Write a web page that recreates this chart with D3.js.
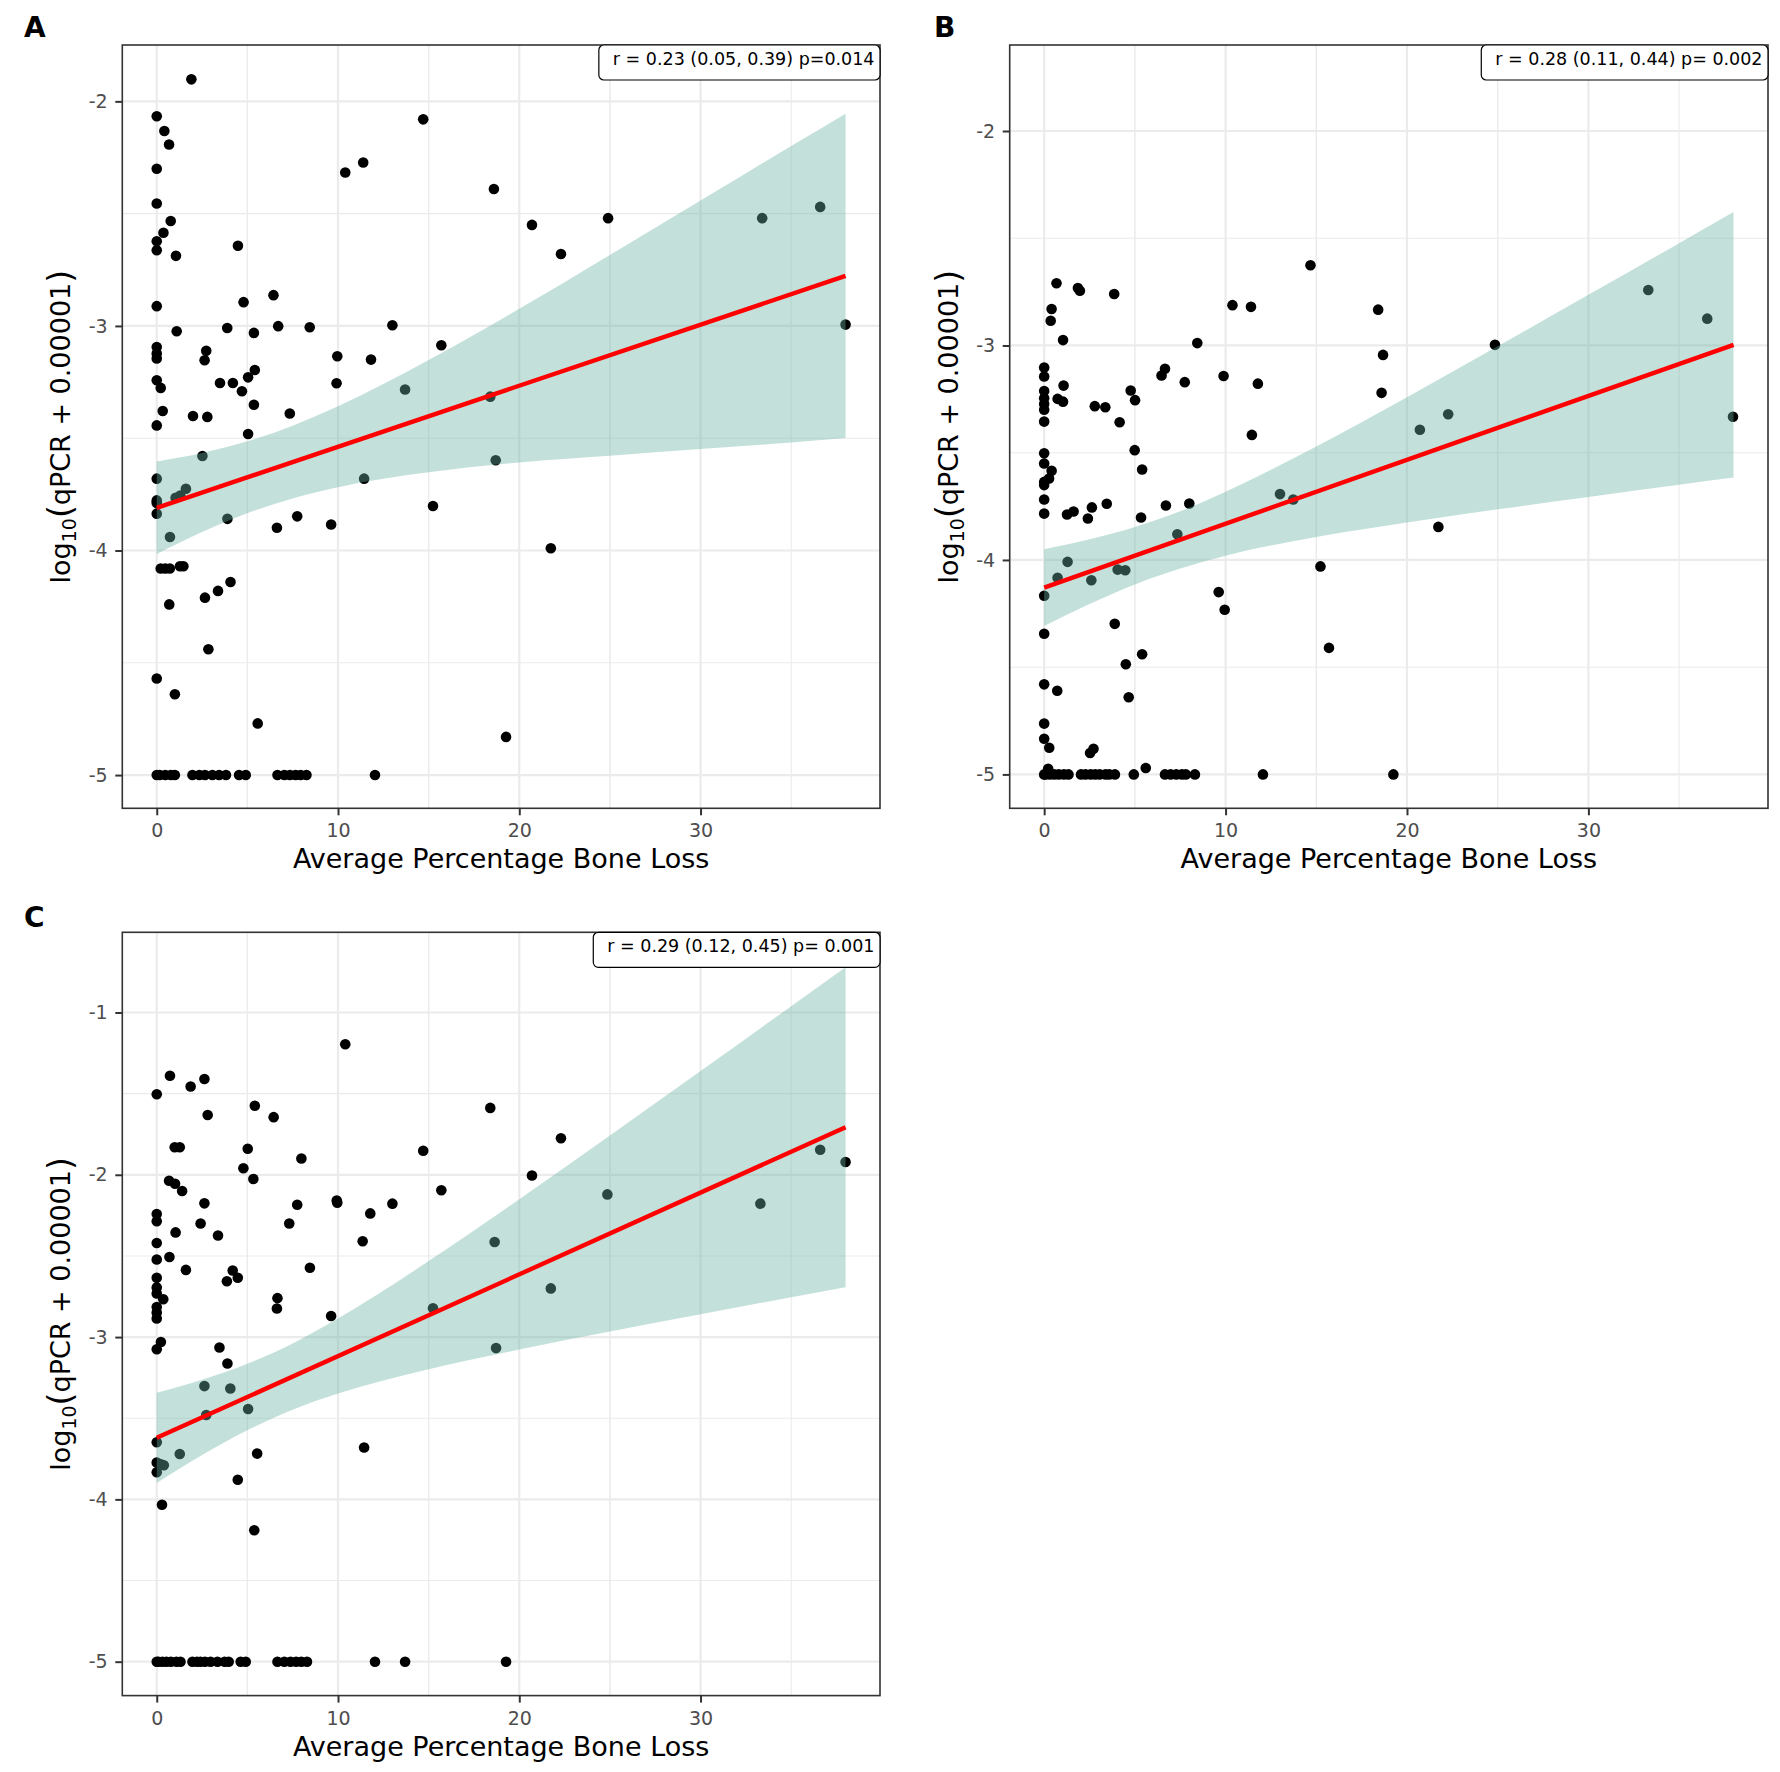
<!DOCTYPE html>
<html>
<head>
<meta charset="utf-8">
<script src="https://cdn.jsdelivr.net/npm/d3@7"></script>
<style>
  html, body { margin: 0; padding: 0; background: #fff; }
  svg { display: block; font-family: "DejaVu Sans", sans-serif; }
</style>
</head>
<body>
<svg id="chart" width="1780" height="1772"></svg>
<script>
// ---------------- data ----------------
const xTicks = [0, 10, 20, 30];
const yTicksA = [-2, -3, -4, -5];
const yTicksB = [-2, -3, -4, -5];
const yTicksC = [-1, -2, -3, -4, -5];

const xTitle = "Average Percentage Bone Loss";
const labelA = "r = 0.23 (0.05, 0.39) p=0.014";
const labelB = "r = 0.28 (0.11, 0.44) p= 0.002";
const labelC = "r = 0.29 (0.12, 0.45) p= 0.001";

const pointsA = [
  [1.91,-1.902],[0,-2.066],[0.42,-2.132],[0.68,-2.192],[0,-2.30],[0,-2.455],[0.77,-2.533],[0.37,-2.585],
  [0,-2.623],[0,-2.663],[1.06,-2.688],[4.48,-2.643],[14.7,-2.08],[10.4,-2.317],[11.39,-2.272],[18.6,-2.39],
  [20.7,-2.55],[24.9,-2.52],[22.3,-2.68],[33.4,-2.52],[36.6,-2.47],[38.0,-2.994],
  [0,-2.912],[6.44,-2.863],[4.79,-2.894],[1.1,-3.024],[3.89,-3.009],[6.7,-3.001],[8.44,-3.006],[5.36,-3.031],
  [13.0,-2.997],[15.7,-3.086],[0,-3.094],[0,-3.123],[0,-3.145],[2.73,-3.111],[2.64,-3.153],[9.96,-3.135],
  [11.82,-3.15],[0,-3.242],[0.22,-3.276],[3.49,-3.254],[4.2,-3.254],[5.04,-3.229],[5.41,-3.196],[4.7,-3.291],
  [9.92,-3.255],[13.7,-3.283],[18.4,-3.315],[5.36,-3.351],[0.33,-3.379],[2.0,-3.401],[2.79,-3.405],[7.34,-3.39],
  [0,-3.443],[5.04,-3.481],[2.52,-3.579],[18.7,-3.598],[0,-3.68],[11.44,-3.68],[1.61,-3.725],[1.3,-3.755],
  [1.04,-3.765],[0,-3.777],[0,-3.789],[0,-3.836],[3.9,-3.859],[0.73,-3.94],[6.63,-3.899],[7.75,-3.848],
  [9.62,-3.884],[15.24,-3.802],[21.74,-3.99],
  [0.22,-4.08],[0.47,-4.08],[0.72,-4.08],[1.28,-4.07],[1.47,-4.07],[0.69,-4.24],[2.66,-4.21],[3.38,-4.18],
  [4.07,-4.14],[2.85,-4.44],[0,-4.57],[1.0,-4.64],[5.57,-4.77],[19.27,-4.83],
  [0,-5],[0.16,-5],[0.47,-5],[0.78,-5],[1.0,-5],[1.97,-5],[2.35,-5],[2.66,-5],[3.07,-5],[3.44,-5],[3.82,-5],
  [4.54,-5],[4.91,-5],[6.66,-5],[7.04,-5],[7.35,-5],[7.66,-5],[7.94,-5],[8.26,-5],[12.04,-5]
];

const pointsB = [
  [14.68,-2.626],[0.68,-2.71],[1.86,-2.732],[1.97,-2.745],[3.86,-2.76],[10.38,-2.812],[11.4,-2.82],[18.41,-2.833],
  [0.41,-2.83],[0.36,-2.885],[33.3,-2.741],[36.55,-2.875],[1.04,-2.975],[8.44,-2.989],[24.85,-2.997],[18.68,-3.044],
  [0,-3.103],[0,-3.145],[6.66,-3.109],[6.47,-3.14],[9.89,-3.142],[11.78,-3.178],[7.75,-3.171],[1.07,-3.187],
  [0,-3.212],[0,-3.246],[0,-3.273],[0,-3.30],[4.77,-3.21],[5.01,-3.255],[0.74,-3.249],[1.04,-3.262],[18.6,-3.221],
  [2.79,-3.283],[3.37,-3.288],[0,-3.355],[4.16,-3.358],[22.27,-3.321],[37.97,-3.332],[20.71,-3.393],[11.45,-3.417],
  [4.99,-3.488],[0,-3.503],[0,-3.55],[5.4,-3.578],[0.41,-3.584],[0.27,-3.62],[0,-3.636],[0,-3.651],[0,-3.718],
  [13.0,-3.693],[13.73,-3.718],[8.0,-3.737],[6.71,-3.746],[3.45,-3.738],[2.63,-3.755],[2.41,-3.807],[1.62,-3.774],
  [1.26,-3.788],[0,-3.784],[5.34,-3.802],[7.34,-3.88],[21.73,-3.846],[1.29,-4.009],[0.74,-4.083],[2.6,-4.095],
  [4.05,-4.045],[4.47,-4.048],[15.23,-4.03],[0,-4.167],[9.62,-4.15],[9.95,-4.232],[3.89,-4.298],[0,-4.344],
  [15.7,-4.41],[5.4,-4.44],[4.5,-4.486],[0,-4.58],[0.72,-4.61],[4.66,-4.64],[0,-4.763],[0,-4.834],[0.28,-4.876],
  [2.72,-4.88],[2.53,-4.9],[0.22,-4.974],[5.6,-4.97],
  [0,-5],[0.06,-5],[0.31,-5],[0.56,-5],[0.81,-5],[1.09,-5],[1.34,-5],[2.03,-5],[2.28,-5],[2.56,-5],[2.81,-5],
  [3.06,-5],[3.38,-5],[3.59,-5],[3.9,-5],[4.94,-5],[6.66,-5],[6.97,-5],[7.28,-5],[7.59,-5],[7.81,-5],[8.31,-5],
  [12.06,-5],[19.25,-5]
];

const pointsC = [
  [10.4,-1.196],[0.73,-1.39],[2.63,-1.41],[1.87,-1.456],[0,-1.504],[5.41,-1.575],[2.81,-1.632],[6.45,-1.645],
  [18.4,-1.588],[0.99,-1.83],[1.27,-1.83],[5.02,-1.84],[14.7,-1.852],[22.3,-1.775],[36.6,-1.846],[38.0,-1.921],
  [7.98,-1.90],[4.78,-1.96],[5.33,-2.026],[0.68,-2.037],[1.01,-2.055],[1.4,-2.10],[20.7,-2.004],[15.7,-2.095],
  [24.86,-2.121],[2.63,-2.176],[9.93,-2.159],[9.96,-2.172],[7.75,-2.185],[13.0,-2.178],[33.3,-2.178],[11.78,-2.238],
  [0,-2.242],[0,-2.286],[2.42,-2.30],[7.31,-2.30],[1.04,-2.355],[3.38,-2.374],[11.36,-2.41],[18.64,-2.414],
  [0,-2.42],[0.7,-2.507],[0,-2.522],[1.61,-2.586],[8.45,-2.573],[4.19,-2.59],[4.47,-2.634],[3.87,-2.656],
  [0,-2.634],[0,-2.694],[0,-2.731],[0.36,-2.767],[21.74,-2.70],[6.66,-2.76],[6.63,-2.824],[15.24,-2.822],
  [0,-2.815],[0,-2.848],[0,-2.885],[9.62,-2.87],[0.23,-3.03],[0,-3.075],[3.46,-3.064],[18.72,-3.068],
  [3.9,-3.163],[2.63,-3.302],[4.06,-3.317],[2.73,-3.48],[5.04,-3.443],[0,-3.648],[1.27,-3.72],[5.54,-3.718],
  [11.44,-3.68],[0,-3.773],[0.23,-3.784],[0.39,-3.79],[0,-3.833],[4.47,-3.879],[0.29,-4.033],[5.38,-4.19],
  [0,-5],[0.09,-5],[0.31,-5],[0.53,-5],[0.78,-5],[1.09,-5],[1.31,-5],[1.97,-5],[2.22,-5],[2.41,-5],[2.66,-5],
  [2.97,-5],[3.35,-5],[3.75,-5],[3.97,-5],[4.63,-5],[4.91,-5],[6.66,-5],[7.04,-5],[7.38,-5],[7.69,-5],[7.98,-5],
  [8.29,-5],[12.04,-5],[13.7,-5],[19.27,-5]
];

// fitted lines (end points)
const fitA = [[0,-3.81],[38,-2.777]];
const fitB = [[0,-4.129],[38,-2.997]];
const fitC = [[0,-3.621],[38,-1.707]];

// confidence band edges read at these x positions
const bandX  = [0, 2.5, 5, 7.5, 10, 15, 20, 25, 30, 35, 38];
const upperA = [-3.604,-3.566,-3.514,-3.444,-3.358,-3.152,-2.924,-2.684,-2.442,-2.199,-2.055];
const lowerA = [-4.016,-3.918,-3.834,-3.768,-3.718,-3.652,-3.608,-3.578,-3.548,-3.519,-3.499];
const upperB = [-3.950,-3.904,-3.846,-3.773,-3.682,-3.471,-3.241,-3.004,-2.764,-2.523,-2.378];
const lowerB = [-4.308,-4.206,-4.114,-4.040,-3.980,-3.893,-3.825,-3.764,-3.706,-3.649,-3.616];
const upperC = [-3.343,-3.263,-3.164,-3.039,-2.886,-2.532,-2.151,-1.758,-1.361,-0.961,-0.721];
const lowerC = [-3.899,-3.727,-3.574,-3.447,-3.348,-3.198,-3.077,-2.966,-2.859,-2.755,-2.693];

// ---------------- layout ----------------
const panels = [
  { letter: "A", pts: pointsA, fit: fitA, up: upperA, lo: lowerA, yTicks: yTicksA, label: labelA,
    yDomain: [-5.148, -1.749], box: { l: 122.3, r: 880, t: 45, b: 808.3 }, letterPos: [24, 36.7] },
  { letter: "B", pts: pointsB, fit: fitB, up: upperB, lo: lowerB, yTicks: yTicksB, label: labelB,
    yDomain: [-5.158, -1.599], box: { l: 1009.7, r: 1768, t: 45, b: 808.3 }, letterPos: [934, 36.7] },
  { letter: "C", pts: pointsC, fit: fitC, up: upperC, lo: lowerC, yTicks: yTicksC, label: labelC,
    yDomain: [-5.209, -0.506], box: { l: 122.3, r: 880, t: 932.3, b: 1695.6 }, letterPos: [24, 926.7] }
];
const xDomain = [-1.9, 39.9];

const svg = d3.select("#chart");
svg.append("rect").attr("width", 1780).attr("height", 1772).attr("fill", "#fff");

panels.forEach(p => {
  const B = p.box;
  const x = d3.scaleLinear().domain(xDomain).range([B.l, B.r]);
  const y = d3.scaleLinear().domain(p.yDomain).range([B.b, B.t]);
  const g = svg.append("g");

  const clipId = "clip" + p.letter;
  g.append("clipPath").attr("id", clipId).append("rect")
    .attr("x", B.l).attr("y", B.t).attr("width", B.r - B.l).attr("height", B.b - B.t);

  // minor grid
  const xMinor = xTicks.map(t => t + 5).concat(xTicks.map(t => t - 5))
    .filter(v => v > xDomain[0] && v < xDomain[1] && !xTicks.includes(v));
  const yMinor = Array.from(new Set(p.yTicks.map(t => t + 0.5).concat(p.yTicks.map(t => t - 0.5))))
    .filter(v => v > p.yDomain[0] && v < p.yDomain[1] && !p.yTicks.includes(v));
  const grid = g.append("g");
  grid.selectAll(".xm").data(xMinor).join("line")
    .attr("x1", d => x(d)).attr("x2", d => x(d)).attr("y1", B.t).attr("y2", B.b)
    .attr("stroke", "#EBEBEB").attr("stroke-width", 1.1);
  grid.selectAll(".ym").data(yMinor).join("line")
    .attr("y1", d => y(d)).attr("y2", d => y(d)).attr("x1", B.l).attr("x2", B.r)
    .attr("stroke", "#EBEBEB").attr("stroke-width", 1.1);
  grid.selectAll(".xM").data(xTicks).join("line")
    .attr("x1", d => x(d)).attr("x2", d => x(d)).attr("y1", B.t).attr("y2", B.b)
    .attr("stroke", "#EBEBEB").attr("stroke-width", 2.2);
  grid.selectAll(".yM").data(p.yTicks).join("line")
    .attr("y1", d => y(d)).attr("y2", d => y(d)).attr("x1", B.l).attr("x2", B.r)
    .attr("stroke", "#EBEBEB").attr("stroke-width", 2.2);

  const plot = g.append("g").attr("clip-path", `url(#${clipId})`);

  // points
  plot.selectAll("circle").data(p.pts).join("circle")
    .attr("cx", d => x(d[0])).attr("cy", d => y(d[1])).attr("r", 5.3).attr("fill", "#000");

  // confidence band
  const bandData = bandX.map((bx, i) => ({ x: bx, up: p.up[i], lo: p.lo[i] }));
  const area = d3.area().curve(d3.curveMonotoneX)
    .x(d => x(d.x)).y0(d => y(d.lo)).y1(d => y(d.up));
  plot.append("path").datum(bandData).attr("d", area)
    .attr("fill", "#69b3a2").attr("fill-opacity", 0.4);

  // fitted line
  plot.append("path").datum(p.fit)
    .attr("d", d3.line().x(d => x(d[0])).y(d => y(d[1])))
    .attr("fill", "none").attr("stroke", "#FF0000").attr("stroke-width", 4.4);

  // panel border
  g.append("rect").attr("x", B.l).attr("y", B.t).attr("width", B.r - B.l).attr("height", B.b - B.t)
    .attr("fill", "none").attr("stroke", "#333333").attr("stroke-width", 1.6);

  // axes ticks
  const xAxis = d3.axisBottom(x).tickValues(xTicks).tickSize(7).tickPadding(4).tickFormat(d3.format("d"));
  const yAxis = d3.axisLeft(y).tickValues(p.yTicks).tickSize(7).tickPadding(6).tickFormat(d => String(d));
  const gx = g.append("g").attr("transform", `translate(0,${B.b})`).call(xAxis);
  const gy = g.append("g").attr("transform", `translate(${B.l},0)`).call(yAxis);
  [gx, gy].forEach(ax => {
    ax.select(".domain").remove();
    ax.selectAll(".tick line").attr("stroke", "#333333").attr("stroke-width", 2);
    ax.selectAll(".tick text").attr("fill", "#4D4D4D").attr("font-size", 19)
      .attr("font-family", "DejaVu Sans");
  });
  gx.selectAll(".tick text").attr("dy", null).attr("y", 29);
  gy.selectAll(".tick text").attr("x", -14.6);

  // x title
  g.append("text").attr("x", (B.l + B.r) / 2).attr("y", B.b + 60)
    .attr("text-anchor", "middle").attr("font-size", 27).attr("fill", "#000").text(xTitle);

  // y title (log10 with subscript)
  const yt = g.append("text")
    .attr("transform", `translate(${B.l - 52},${(B.t + B.b) / 2}) rotate(-90)`)
    .attr("text-anchor", "middle").attr("font-size", 27).attr("fill", "#000");
  yt.append("tspan").text("log");
  yt.append("tspan").attr("font-size", 19).attr("dy", 6).text("10");
  yt.append("tspan").attr("font-size", 33).attr("dy", -4).text("(");
  yt.append("tspan").attr("font-size", 27).attr("dy", -2).text("qPCR + 0.00001");
  yt.append("tspan").attr("font-size", 33).attr("dy", 2).text(")");

  // correlation label box (top-right)
  const lt = g.append("text").attr("x", B.r - 5.5).attr("y", B.t + 19.5)
    .attr("text-anchor", "end").attr("font-size", 17.5).attr("fill", "#000").text(p.label);
  const tl = lt.node().getComputedTextLength();
  g.insert("rect", () => lt.node())
    .attr("x", B.r - 5.5 - tl - 14).attr("y", B.t).attr("width", tl + 19.5).attr("height", 35)
    .attr("rx", 5).attr("ry", 5).attr("fill", "#fff").attr("stroke", "#000").attr("stroke-width", 1.2);

  // panel letter
  svg.append("text").attr("x", p.letterPos[0]).attr("y", p.letterPos[1])
    .attr("font-size", 28).attr("font-weight", "bold").attr("fill", "#000").text(p.letter);
});
</script>
</body>
</html>
